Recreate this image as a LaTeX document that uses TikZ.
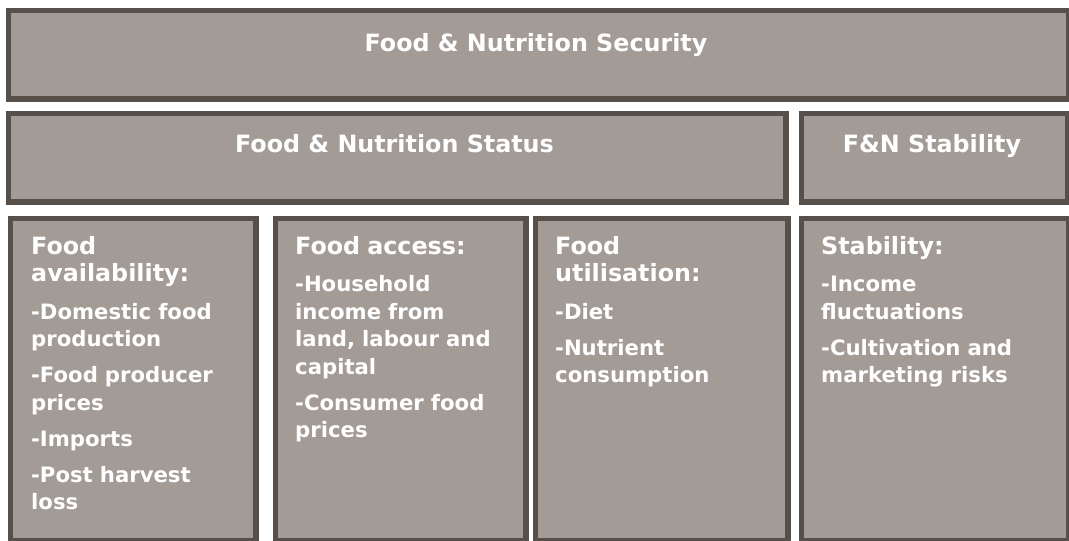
\documentclass[tikz,border=0pt]{standalone}
\usepackage{fontspec}
\setmainfont{DejaVu Sans}
\usetikzlibrary{positioning}

\definecolor{boxfill}{HTML}{A39B95}
\definecolor{boxedge}{HTML}{57504A}
\newcommand{\headfont}{\bfseries\fontsize{23.8}{28}\selectfont}
\newcommand{\listfont}{\bfseries\fontsize{21.2}{27.5}\selectfont}

\tikzset{
    box/.style={draw=boxedge, fill=boxfill, line width=5.5pt, inner sep=0pt, anchor=north west},
    boxtitle/.style={text=white, font=\headfont, anchor=base, inner sep=0pt},
    boxlist/.style={text=white, font=\listfont, anchor=base west, inner sep=0pt, text width=240pt, align=left},
}

\begin{document}
\begin{tikzpicture}[x=1pt,y=-1pt]

    \useasboundingbox (0,0) rectangle (1069,541);

    % top level
    \node[box, minimum width=1060pt, minimum height=88.5pt] (security) at (5.75,7.75) {};
    \node[boxtitle] (securitytxt) at (536,51) {Food \& Nutrition Security};

    % second level
    \node[box, minimum width=777.5pt, minimum height=88.5pt] (status) at (5.75,110.75) {};
    \node[boxtitle] (statustxt) at (394.5,152) {Food \& Nutrition Status};

    \node[box, minimum width=266.5pt, minimum height=88.5pt] (stability) at (798.75,110.75) {};
    \node[boxtitle] (stabilitytxt) at (932,152) {F\&N Stability};

    %%%%%%%%%%%%%%%%%%%%%%%%%%%%%%%%%%%%%%%%%%%%%%%%%%%%%%%%%

    % availability
    \node[box, minimum width=245.5pt, minimum height=322.5pt] (avail) at (7.75,215.75) {};
    \node[boxlist] (availtxt) at (31,254) {{\headfont Food\\availability:}\\[10pt]
        -Domestic food\\production\\[8.5pt]
        -Food producer\\prices\\[8.5pt]
        -Imports\\[8.5pt]
        -Post harvest\\loss};

    % access
    \node[box, minimum width=250.5pt, minimum height=322.5pt] (access) at (272.75,215.75) {};
    \node[boxlist] (accesstxt) at (295,254) {{\headfont Food access:}\\[10pt]
        -Household\\income from\\land, labour and\\capital\\[8.5pt]
        -Consumer food\\prices};

    % utilisation
    \node[box, minimum width=252.5pt, minimum height=322.5pt] (util) at (532.75,215.75) {};
    \node[boxlist] (utiltxt) at (555,254) {{\headfont Food\\utilisation:}\\[10pt]
        -Diet\\[8.5pt]
        -Nutrient\\consumption};

    % stability
    \node[box, minimum width=267pt, minimum height=322.5pt] (stable) at (798.75,215.75) {};
    \node[boxlist] (stabletxt) at (821,254) {{\headfont Stability:}\\[10pt]
        -Income\\fluctuations\\[8.5pt]
        -Cultivation and\\marketing risks};

\end{tikzpicture}
\end{document}
